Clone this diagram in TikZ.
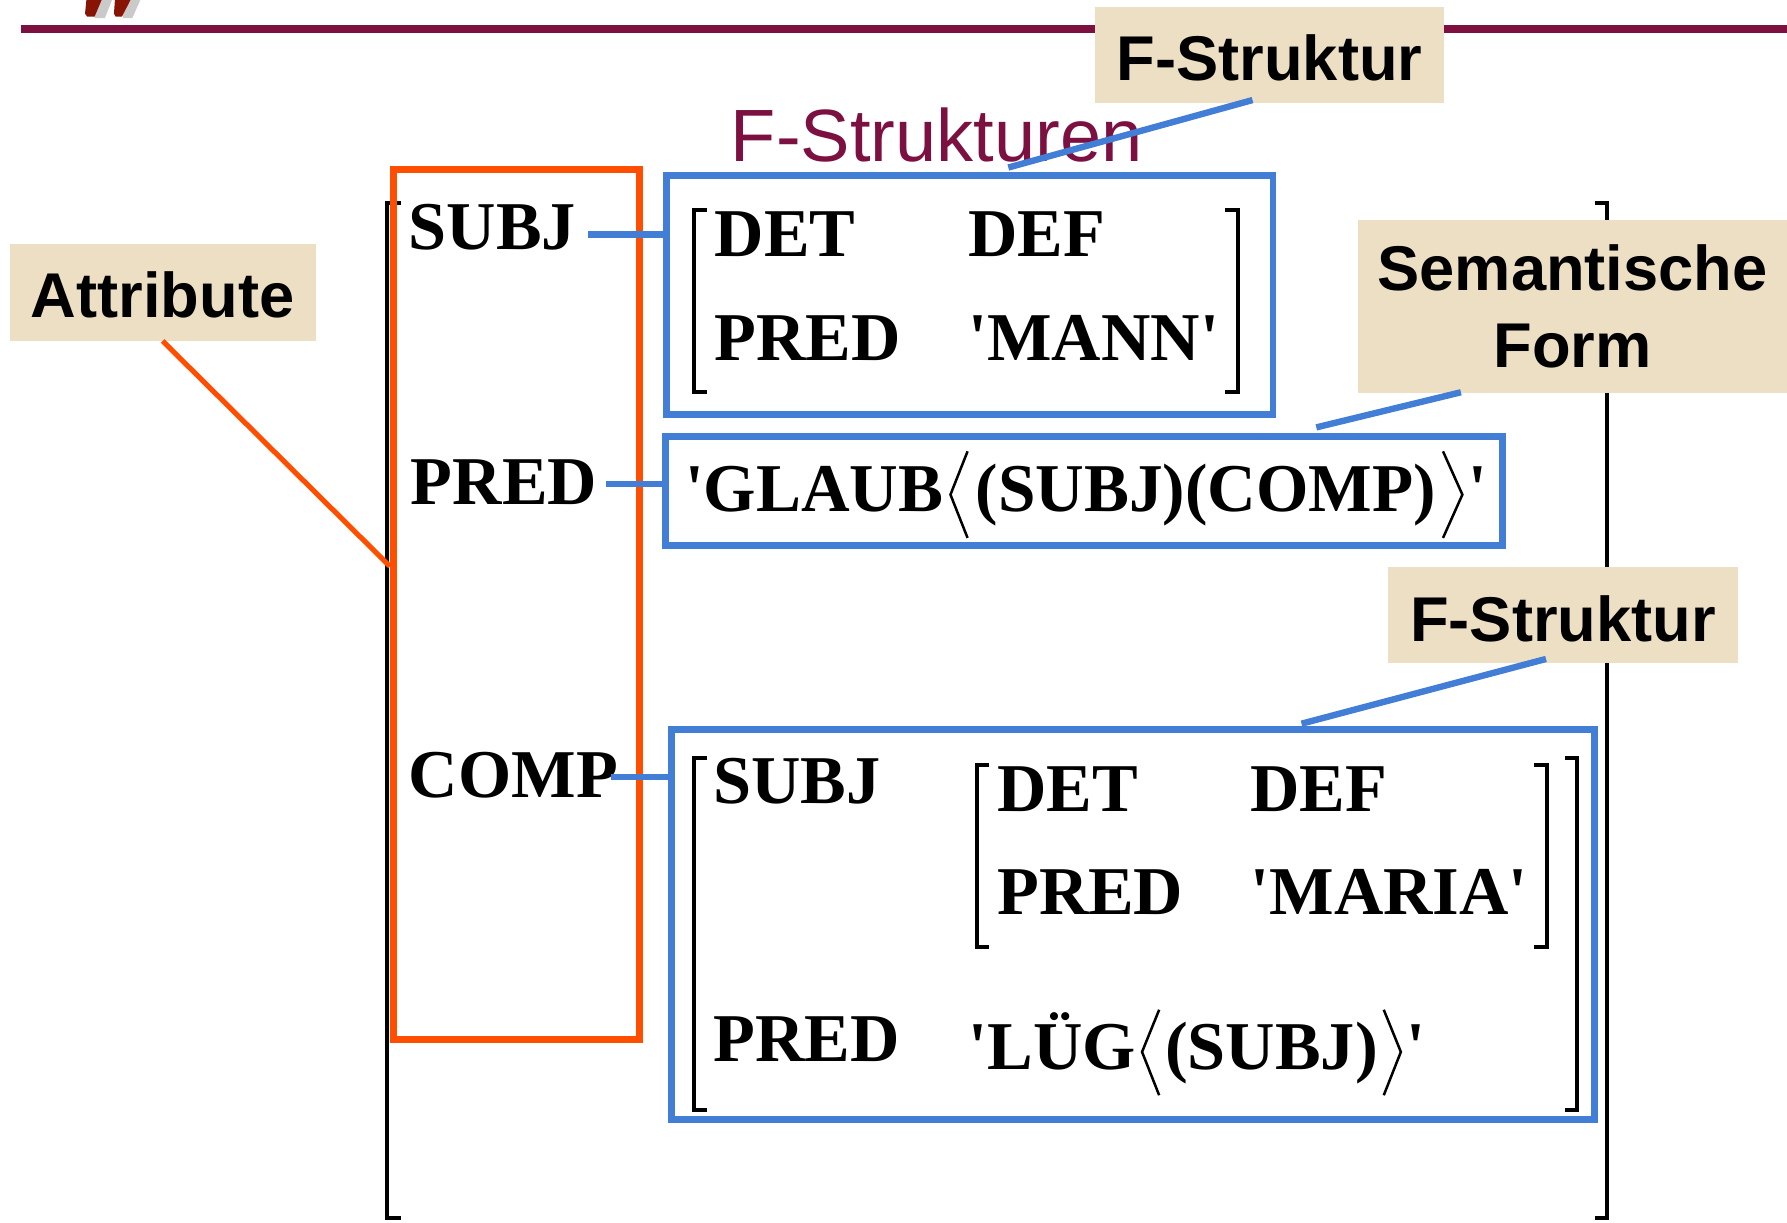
\documentclass[tikz,border=0pt]{standalone}
\usepackage{fontspec}
\usetikzlibrary{calc}
\newfontfamily\tms{Liberation Serif}[Ligatures=TeXOff]
\newfontfamily\arl{Liberation Sans}
\definecolor{mymaroon}{RGB}{124,16,64}
\definecolor{myorange}{RGB}{255,78,0}
\definecolor{myblue}{RGB}{66,125,214}
\definecolor{mybeige}{RGB}{237,223,195}
\definecolor{mylogo}{RGB}{135,20,5}
\begin{document}
\begin{tikzpicture}[x=1pt,y=-1pt,
  tx/.style={anchor=base west, inner sep=0pt, font=\tms\bfseries\fontsize{60}{66}\selectfont},
  lbl/.style={fill=mybeige, inner sep=0pt, font=\arl\bfseries\fontsize{55.5}{67.2}\selectfont, align=center},
  fsbox/.style={draw=myblue, line width=6pt, inner sep=0pt},
  orbox/.style={draw=myorange, line width=6pt, inner sep=0pt},
  bline/.style={myblue, line width=5.6pt},
  oline/.style={myorange, line width=4.5pt},
  brk/.style={black, line width=3.5pt},
  ang/.style={black, line width=2.2pt, line join=miter},
]
\useasboundingbox (0,0) rectangle (1568,1073);
% logo and header line
\fill[black!35, opacity=0.6] (84,-2) -- (99,-2) -- (92,16) -- (83,16) -- cycle;
\fill[black!35, opacity=0.6] (109,-2) -- (124,-2) -- (116,16) -- (108,16) -- cycle;
\fill[mylogo] (76,-2) -- (90,-2) -- (83,14.6) -- (76.5,14.6) -- (74.6,12) -- cycle;
\fill[mylogo] (101,-2) -- (115.5,-2) -- (107,14.6) -- (101.5,14.6) -- (100,12) -- cycle;
\draw[mymaroon, line width=6.7pt] (18.4,25.3) -- (1568,25.3);

% big outer brackets
\draw[brk] (352,178) -- (340,178) -- (340,1069) -- (352,1069);
\draw[brk] (1399.5,178) -- (1410,178) -- (1410,1069) -- (1399.5,1069);

% orange attribute frame
\node[orbox, minimum width=216pt, minimum height=763pt] (attrs) at (453.25,530.5) {};

% blue f-structure boxes
\node[fsbox, minimum width=532.5pt, minimum height=209.5pt] (fs1) at (850.75,258.75) {};
\node[fsbox, minimum width=734pt, minimum height=96pt] (sf) at (951,431) {};
\node[fsbox, minimum width=810pt, minimum height=342pt] (fs2) at (994,811) {};

% attributes
\node[tx] (subj) at (358.6,218.7) {SUBJ};
\node[tx] (pred) at (360.3,443) {PRED};
\node[tx] (comp) at (358.6,700) {COMP};

% box 1
\node[tx] (det1) at (627,225) {DET};
\node[tx] (def1) at (849.5,225) {DEF};
\node[tx] (pred1) at (627,316) {PRED};
\node[tx] (mann) at (849.5,316) {'MANN'};
\draw[brk] (620,184) -- (609,184) -- (609,344) -- (620,344);
\draw[brk] (1075,184) -- (1086,184) -- (1086,344) -- (1075,344);

% box 2 : semantic form
\begin{scope}[every node/.append style={xscale=0.985}]
\node[tx] (g1) at (601,449) {'GLAUB};
\draw[ang] ($(g1.base east)+(21,-53)$) -- ($(g1.base east)+(6,-15)$) -- ($(g1.base east)+(21,23)$);
\node[tx] (g2) at ($(g1.base east)+(28,0)$) {(SUBJ)(COMP)};
\draw[ang] ($(g2.base east)+(6,-53)$) -- ($(g2.base east)+(23,-15)$) -- ($(g2.base east)+(6,23)$);
\node[tx] (g3) at ($(g2.base east)+(28,0)$) {'};
\end{scope}

% box 3
\node[tx] (subj2) at (625.7,705) {SUBJ};
\node[tx] (det2) at (874.8,712) {DET};
\node[tx] (def2) at (1097,712) {DEF};
\node[tx] (pred2) at (874.8,802.8) {PRED};
\node[tx] (maria) at (1097,802.8) {'MARIA'};
\node[tx] (pred3) at (626,931) {PRED};
\node[tx] (l1) at (850,938.5) {'LÜG};
\draw[ang] ($(l1.base east)+(20,-52.5)$) -- ($(l1.base east)+(5,-15.5)$) -- ($(l1.base east)+(20,22.5)$);
\node[tx] (l2) at ($(l1.base east)+(25,0)$) {(SUBJ)};
\draw[ang] ($(l2.base east)+(5,-52.5)$) -- ($(l2.base east)+(20,-15.5)$) -- ($(l2.base east)+(5,22.5)$);
\node[tx] (l3) at ($(l2.base east)+(25,0)$) {'};
\draw[brk] (620,665) -- (609,665) -- (609,974) -- (620,974);
\draw[brk] (1373,665) -- (1384,665) -- (1384,974) -- (1373,974);
\draw[brk] (868,671) -- (857,671) -- (857,831) -- (868,831);
\draw[brk] (1346,671) -- (1357,671) -- (1357,831) -- (1346,831);

% connectors attribute -> value
\coordinate (cs) at ($(subj.base east)+(10,-13)$);
\coordinate (cp) at ($(pred.base east)+(7.5,-18.3)$);
\coordinate (cc) at ($(comp.base east)+(-6,-18)$);
\draw[bline] (cs) -- (cs -| fs1.west);
\draw[bline] (cp) -- (cp -| sf.west);
\draw[bline] (cc) -- (cc -| fs2.west);

% title
\node[anchor=base west, inner sep=0pt, text=mymaroon, font=\arl\fontsize{65}{70}\selectfont] (title) at (641,141.8) {F-Strukturen};

% labels
\node[lbl, minimum width=268.6pt, text height=65pt, text depth=20pt] (attr) at (142.7,256.5) {Attribute};
\node[lbl, minimum width=306pt, text height=64.3pt, text depth=20.4pt] (fsl1) at (1114,48.25) {F-Struktur};
\node[lbl, minimum width=376.3pt, minimum height=152pt] (semf) at (1379.85,269) {Semantische\\Form};
\node[lbl, minimum width=307pt, text height=65.8pt, text depth=19pt] (fsl2) at (1371.5,539.6) {F-Struktur};

% label connectors
\coordinate (oa) at (0,497);
\draw[oline] (attr.south) -- (attrs.west |- oa);
\draw[bline] ($(fsl1.south)+(-15,-3)$) -- ($(fs1.north)+(34,-4)$);
\draw[bline] ($(semf.south)+(-98,-1)$) -- ($(sf.north)+(204,-5)$);
\draw[bline] ($(fsl2.south)+(-15,-4)$) -- ($(fs2.north)+(148,-2)$);
\end{tikzpicture}
\end{document}
